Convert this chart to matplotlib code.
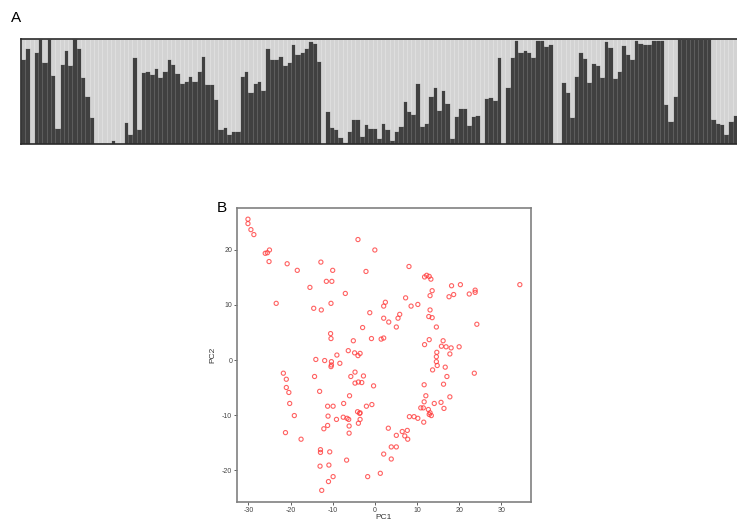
import numpy as np
import matplotlib.pyplot as plt

plt.rcParams['font.family'] = ['Liberation Sans', 'DejaVu Sans']
plt.rcParams['axes.unicode_minus'] = False

# panel A: ancestry proportion of the dark cluster per individual
q_dark = [0.81, 0.91, 0.0, 0.875, 1.0, 0.78, 1.0, 0.66, 0.15, 0.76, 0.9, 0.75, 1.0, 0.91,
          0.64, 0.46, 0.26, 0.005, 0.01, 0.01, 0.0, 0.04, 0.0, 0.0, 0.21, 0.1, 0.83, 0.14,
          0.69, 0.7, 0.67, 0.72, 0.64, 0.7, 0.81, 0.76, 0.68, 0.58, 0.6, 0.65, 0.6, 0.7,
          0.84, 0.57, 0.57, 0.43, 0.14, 0.16, 0.1, 0.12, 0.12, 0.65, 0.7,
          0.5, 0.58, 0.6, 0.51, 0.91, 0.81, 0.81, 0.84, 0.75, 0.78, 0.95, 0.86, 0.875, 0.91,
          0.98, 0.96, 0.79, 0.0, 0.31, 0.16, 0.14, 0.07, 0.02, 0.12, 0.24, 0.24, 0.08, 0.19,
          0.15, 0.15, 0.06, 0.2, 0.14, 0.04, 0.12, 0.17, 0.41, 0.31, 0.29, 0.58, 0.17, 0.2,
          0.46, 0.54, 0.32, 0.51, 0.39, 0.06, 0.27, 0.34, 0.34, 0.18, 0.27, 0.28, 0.0, 0.44,
          0.45, 0.42, 0.83, 0.0, 0.54, 0.83, 0.99, 0.88, 0.9, 0.88, 0.83, 0.99, 0.99, 0.93,
          0.95, 0.0, 0.0, 0.59, 0.5, 0.26, 0.65, 0.88, 0.82, 0.59, 0.77, 0.75, 0.64, 0.98,
          0.92, 0.63, 0.7, 0.94, 0.86, 0.81, 0.99, 0.96, 0.95, 0.95, 0.99, 0.99, 0.99, 0.38,
          0.22, 0.46, 1.0, 1.0, 1.0, 1.0, 1.0, 1.0, 1.0, 1.0, 0.24, 0.2, 0.19, 0.1, 0.22, 0.28]

# panel B: PCA scores
pc1 = [-30.1, -30.1, -29.4, -28.7, -26.0, -25.5, -25.0, -25.1, -20.8, -18.4, -23.4, -15.4,
       -14.5, -12.8, -12.7, -11.5, -10.2, -10.0, -10.4, -7.0, -4.0, 0.0, -2.1, -10.5, -10.4,
       -5.1, -2.9, -1.2, 2.1, 2.5, 2.1, 3.3, -0.8, 1.5, 2.1, 5.5, 5.9, 5.1, 7.3, 8.1, 8.6,
       10.2, 11.8, 12.3, 12.9, 13.3, 13.6, 13.1, 13.1, 12.8, 13.6, 14.6, 11.8, 12.9, 16.2,
       15.8, 16.9, 18.1, 20.0, 17.6, 18.2, 18.7, 20.3, 22.4, 23.8, 23.8, 24.2, 34.4,
       -14.0, -11.9, -10.3, -10.3, -10.4, -9.0, -8.3, -6.3, -4.8, -4.0, -3.5,
       -21.7, -21.0, -21.0, -20.4, -20.2, -19.1, -21.2, -17.5, -14.3, -13.1, -11.2, -9.9,
       -11.1, -11.2, -12.1, -9.1, -7.4, -6.0, -5.7, -4.7, -4.7, -3.9, -3.1, -2.7, -0.3,
       -7.5, -6.6, -6.2, -6.1, -6.1, -4.1, -3.6, -3.5, -3.5, -3.9, -2.0, -0.7,
       -12.9, -12.9, -10.7, -13.0, -10.9, -9.9, -11.0, -12.6, -6.7, -1.7, 1.3, 2.1,
       3.2, 3.9, 3.9, 5.1, 5.1, 6.5, 7.1, 7.7, 7.8, 8.2, 9.3, 10.2, 11.6, 10.9, 11.5,
       11.7, 11.7, 12.1, 12.7, 12.9, 13.1, 13.4, 14.1, 15.7, 16.4, 16.3, 17.1, 16.7,
       17.8, 17.8, 23.6, 13.7, 14.8, 14.6, 14.6, 14.7]
pc2 = [25.6, 24.8, 23.7, 22.8, 19.4, 19.5, 20.0, 17.9, 17.5, 16.3, 10.3, 13.2,
       9.4, 17.8, 9.1, 14.3, 14.3, 16.3, 10.3, 12.1, 21.9, 20.0, 16.1, 4.8, 3.9,
       3.5, 5.9, 8.6, 9.8, 10.5, 7.6, 6.9, 3.9, 3.8, 4.0, 7.6, 8.3, 6.0, 11.3, 17.0, 9.8,
       10.1, 15.1, 15.4, 15.2, 14.7, 12.6, 11.7, 9.1, 7.9, 7.7, 6.0, 2.8, 3.7, 3.5,
       2.5, 2.4, 2.2, 2.4, 11.5, 13.5, 11.9, 13.7, 12.0, 12.7, 12.3, 6.5, 13.7,
       0.1, -0.1, -0.3, -0.9, -1.2, 0.9, -0.6, 1.7, 1.3, 0.8, 1.2,
       -2.4, -3.5, -5.0, -5.9, -7.9, -10.1, -13.2, -14.4, -3.0, -5.7, -8.4, -8.4,
       -10.2, -11.9, -12.5, -10.8, -7.9, -6.5, -3.0, -2.2, -4.2, -4.0, -4.1, -2.9, -4.7,
       -10.4, -10.6, -10.8, -12.0, -13.3, -9.4, -9.7, -9.6, -10.8, -11.5, -8.4, -8.1,
       -16.3, -16.8, -16.7, -19.3, -19.1, -21.2, -22.1, -23.7, -18.2, -21.2, -20.6, -17.1,
       -12.4, -15.8, -18.0, -15.8, -13.7, -13.0, -13.8, -12.8, -14.4, -10.3, -10.3, -10.6,
       -11.3, -8.7, -8.7, -7.6, -4.5, -6.5, -9.0, -9.9, -9.6, -10.1, -7.9, -7.7, -8.8,
       -4.4, -3.0, -1.3, -6.7, 1.1, -2.4, -1.8, -1.0, -0.3, 0.6, 1.4]

xticks_b = [-30, -20, -10, 0, 10, 20, 30]
yticks_b = [-20, -10, 0, 10, 20]

fig = plt.figure(figsize=(7.37, 5.23), dpi=100)

# --- panel A ---
axA = fig.add_axes([21/737, 1 - 144/523, 1 - 21/737, 105/523])
idx = np.arange(len(q_dark))
q = np.array(q_dark)
axA.bar(idx, q, width=1.0, color='#404040', edgecolor='#5c5c5c', linewidth=0.4)
axA.bar(idx, 1 - q, bottom=q, width=1.0, color='#d3d3d3', edgecolor='#e2e2e2', linewidth=0.4)
axA.set_xlim(-0.5, len(q_dark) - 0.5)
axA.set_ylim(0, 1)
axA.set_xticks([])
axA.set_yticks([])
for s in ['top', 'bottom', 'left']:
    axA.spines[s].set_color('#2a2a2a')
    axA.spines[s].set_linewidth(1.2)
axA.spines['right'].set_visible(False)
fig.text(11/737, 1 - 18/523, 'A', fontsize=11, va='center', ha='left')

# --- panel B ---
axB = fig.add_axes([237/737, 1 - 501.7/523, 294/737, 293.4/523])
axB.scatter(pc1, pc2, s=9, facecolors='none', edgecolors='#ff3b3b', linewidths=0.8, alpha=0.8)
axB.set_xlim(-32.7, 37.05)
axB.set_ylim(-25.76, 27.58)
axB.set_xticks(xticks_b)
axB.set_yticks(yticks_b)
axB.tick_params(labelsize=5, colors='#444444', length=2, width=0.6, pad=1.5)
for s in axB.spines.values():
    s.set_color('#808080')
    s.set_linewidth(1.2)
axB.set_xlabel('PC1', fontsize=6, color='#333333', labelpad=0.5)
axB.set_ylabel('PC2', fontsize=6, color='#333333', labelpad=4)
fig.text(217/737, 1 - 208/523, 'B', fontsize=11, va='center', ha='left')

fig.savefig('out.png', dpi=100)
